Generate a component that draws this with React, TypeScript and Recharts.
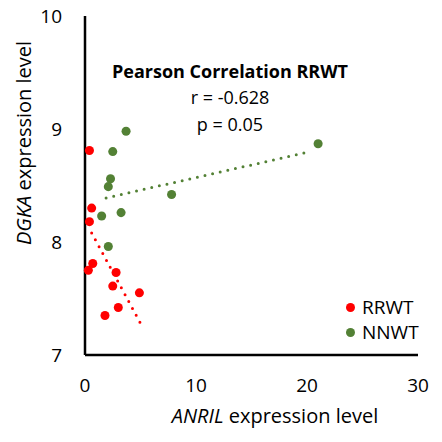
import React from "react";
import {
  ScatterChart,
  Scatter,
  XAxis,
  YAxis,
  ZAxis,
  Legend,
} from "recharts";

const RED = "#ff0000";
const GREEN = "#538135";
const FONT = "'Open Sans', sans-serif";

// ANRIL (x) vs DGKA (y)
const rrwtX = [0.4, 0.6, 0.4, 0.3, 0.7, 2.8, 2.5, 4.9, 3.0, 1.8];
const rrwtY = [8.81, 8.3, 8.18, 7.75, 7.81, 7.73, 7.61, 7.55, 7.42, 7.35];
const nnwtX = [3.7, 2.5, 2.3, 2.1, 1.5, 3.25, 2.1, 7.8, 21.0];
const nnwtY = [8.98, 8.8, 8.56, 8.49, 8.23, 8.26, 7.96, 8.42, 8.87];

// linear trend line end points
const rrwtTrendX = [0.6, 5.06];
const rrwtTrendY = [8.08, 7.27];
const nnwtTrendX = [1.9, 20.3];
const nnwtTrendY = [8.39, 8.8];

const xTicks = [0, 10, 20, 30];
const yTicks = [7, 8, 9, 10];
const seriesNames = ["RRWT", "NNWT"];

const zip = (xs: number[], ys: number[]) => xs.map((x, i) => ({ x, y: ys[i] }));

const rrwt = zip(rrwtX, rrwtY);
const nnwt = zip(nnwtX, nnwtY);
const rrwtTrend = zip(rrwtTrendX, rrwtTrendY);
const nnwtTrend = zip(nnwtTrendX, nnwtTrendY);

const dotted = (color: string) => ({
  stroke: color,
  strokeWidth: 3,
  strokeDasharray: "0 7.8",
  strokeLinecap: "round" as const,
});

function LegendBox(props: any) {
  const items = (props.payload || [])
    .filter((p: any) => seriesNames.includes(p.value))
    .sort((a: any, b: any) => seriesNames.indexOf(a.value) - seriesNames.indexOf(b.value));
  return (
    <div style={{ fontFamily: FONT, fontSize: 19, color: "#000" }}>
      {items.map((p: any) => (
        <div
          key={p.value}
          style={{ display: "flex", alignItems: "center", height: 25, lineHeight: "25px" }}
        >
          <span
            style={{
              display: "inline-block",
              width: 9,
              height: 9,
              borderRadius: "50%",
              background: p.color,
              marginRight: 7,
            }}
          />
          {p.value}
        </div>
      ))}
    </div>
  );
}

export default function App() {
  return (
    <div style={{ position: "absolute", left: 0, top: 0, background: "#fff" }}>
      <ScatterChart
        width={442}
        height={442}
        margin={{ top: 16, right: 24, bottom: 57, left: 25 }}
      >
        <XAxis
          type="number"
          dataKey="x"
          domain={[0, 30]}
          ticks={xTicks}
          height={30}
          tickLine={false}
          tickSize={6}
          tickMargin={18}
          axisLine={{ stroke: "#000", strokeWidth: 2.5 }}
          tick={{ fontSize: 19, fill: "#000", fontFamily: FONT }}
        />
        <YAxis
          type="number"
          dataKey="y"
          domain={[7, 10]}
          ticks={yTicks}
          width={60}
          tickLine={false}
          tickSize={6}
          tickMargin={17}
          axisLine={{ stroke: "#000", strokeWidth: 2.5 }}
          tick={{ fontSize: 19, fill: "#000", fontFamily: FONT }}
        />
        <ZAxis range={[135, 135]} />
        <Scatter
          name="trend-r"
          data={rrwtTrend}
          line={dotted(RED)}
          shape={() => <g />}
          legendType="none"
          isAnimationActive={false}
        />
        <Scatter
          name="trend-n"
          data={nnwtTrend}
          line={dotted(GREEN)}
          shape={() => <g />}
          legendType="none"
          isAnimationActive={false}
        />
        <Scatter
          name="RRWT"
          data={rrwt}
          fill={RED}
          shape="circle"
          isAnimationActive={false}
        />
        <Scatter
          name="NNWT"
          data={nnwt}
          fill={GREEN}
          shape="circle"
          isAnimationActive={false}
        />
        <Legend
          layout="vertical"
          align="center"
          verticalAlign="middle"
          content={LegendBox}
          wrapperStyle={{ position: "absolute", left: 346, top: 295, width: 96 }}
        />
        <text
          x={230}
          y={78}
          textAnchor="middle"
          fontFamily={FONT}
          fontSize={18}
          fontWeight="bold"
          fill="#000"
        >
          Pearson Correlation RRWT
        </text>
        <text x={230} y={104} textAnchor="middle" fontFamily={FONT} fontSize={18} fill="#000">
          r = -0.628
        </text>
        <text x={230} y={131} textAnchor="middle" fontFamily={FONT} fontSize={18} fill="#000">
          p = 0.05
        </text>
        <text x={275} y={423} textAnchor="middle" fontFamily={FONT} fontSize={20} fill="#000">
          <tspan fontStyle="italic">ANRIL</tspan> expression level
        </text>
        <text
          x={31}
          y={143}
          textAnchor="middle"
          transform="rotate(-90, 31, 143)"
          fontFamily={FONT}
          fontSize={20}
          fill="#000"
        >
          <tspan fontStyle="italic">DGKA</tspan> expression level
        </text>
      </ScatterChart>
    </div>
  );
}
